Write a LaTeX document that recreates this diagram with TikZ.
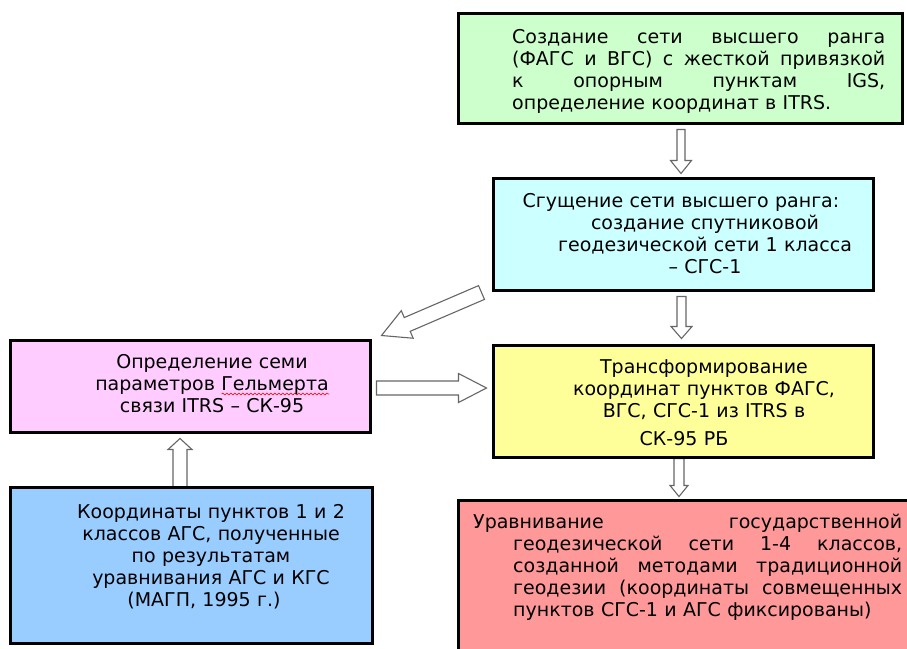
\documentclass[tikz,border=0pt]{standalone}
\usepackage{fontspec}
\setmainfont{DejaVu Sans}
\usepackage{tikz}
\usetikzlibrary{calc}
\usetikzlibrary{backgrounds}
\usetikzlibrary{decorations.pathmorphing}

\definecolor{boxgreen}{HTML}{CCFFCC}
\definecolor{boxcyan}{HTML}{CCFFFF}
\definecolor{boxpink}{HTML}{FFCCFF}
\definecolor{boxyellow}{HTML}{FFFF99}
\definecolor{boxblue}{HTML}{99CCFF}
\definecolor{boxred}{HTML}{FF9999}

\newlength{\wavelen}
\newcommand{\spellwave}[1]{\settowidth{\wavelen}{#1}%
  \rlap{\tikz[baseline=0pt]\draw[red, line width=0.6pt, decorate,
    decoration={snake, amplitude=0.9pt, segment length=4pt}] (0pt,-4pt) -- (\wavelen,-4pt);}#1}
\newcommand{\spreadline}[2]{\makebox[#1][l]{#2}}
\newcommand{\hollowarrow}[5]{%
  \coordinate (hb) at ($(#2)!#4!(#1)$);
  \draw[blockarr] ($(#1)!#3!90:(#2)$) -- ($(hb)!#3!-90:(#1)$) -- ($(hb)!#5!-90:(#1)$)
    -- (#2) -- ($(hb)!#5!90:(#1)$) -- ($(hb)!#3!90:(#1)$) -- ($(#1)!#3!-90:(#2)$) -- cycle;}

\tikzset{
  box/.style={draw=black, line width=3pt, inner sep=0pt},
  txt/.style={inner sep=0pt, font=\fontsize{19}{22}\selectfont},
  ctxt/.style={txt, anchor=base, text width=420pt, align=center},
  blockarr/.style={draw=black!60, fill=white, line width=1.1pt, line join=miter}
}

\begin{document}
\begin{tikzpicture}[x=1pt,y=-1pt]
\useasboundingbox (0,0) rectangle (907,648);
\clip (0,0) rectangle (907,648);

\node[box, fill=boxgreen, minimum width=444, minimum height=110] (green) at (680,68) {};
\node[box, fill=boxcyan, minimum width=380, minimum height=112] (cyan) at (683,234) {};
\node[box, fill=boxpink, minimum width=360, minimum height=92] (pink) at (190,386) {};
\node[box, fill=boxyellow, minimum width=380, minimum height=112] (yellow) at (683,401) {};
\node[box, fill=boxblue, minimum width=362, minimum height=156] (blue) at (191,565) {};
\node[box, fill=boxred, minimum width=470, minimum height=170] (red) at (693,585) {};

\node[txt, anchor=base west, text width=373pt, align=left] (greentext) at (512,43)
  {\spreadline{373pt}{Создание \hfill сети \hfill высшего \hfill ранга}\\
   \spreadline{373pt}{(ФАГС \hfill и \hfill ВГС) \hfill с \hfill жесткой \hfill привязкой}\\
   \spreadline{373pt}{к \hfill опорным \hfill пунктам \hfill IGS,}\\
   определение координат в ITRS.};
\node[ctxt] (cyantext) at (705,207)
  {Сгущение сети высшего ранга:\hspace*{48pt}\null\\ создание спутниковой\\
   геодезической сети 1 класса\\ – СГС-1};
\node[ctxt] (pinktext) at (212,368)
  {Определение семи\\ параметров \spellwave{Гельмерта}\\ связи ITRS – СК-95};
\node[ctxt] (yellowtext) at (704,373)
  {Трансформирование\\ координат пунктов ФАГС,\\ ВГС, СГС-1 из ITRS в\\[6pt]
   СК-95 РБ\hspace*{40pt}\null};
\node[ctxt] (bluetext) at (211,518)
  {Координаты пунктов 1 и 2\\ классов АГС, полученные\\ по результатам\\
   уравнивания АГС и КГС\\ (МАГП, 1995 г.)\hspace*{14pt}\null};
\node[txt, anchor=base west, text width=429pt, align=left] (redtext) at (473,528)
  {\spreadline{429pt}{Уравнивание \hfill государственной}\\
   \hspace*{40pt}\spreadline{389pt}{геодезической \hfill сети \hfill 1-4 \hfill классов,}\\
   \hspace*{40pt}\spreadline{389pt}{созданной \hfill методами \hfill традиционной}\\
   \hspace*{40pt}\spreadline{389pt}{геодезии \hfill (координаты \hfill совмещенных}\\
   \hspace*{40pt}пунктов СГС-1 и АГС фиксированы)};

\begin{pgfonlayer}{background}
\fill[white] (0,0) rectangle (907,648);
\coordinate (a1s) at ($(green.south)+(1,5)$);
\coordinate (a1e) at ($(a1s |- cyan.north)+(0,-3)$);
\coordinate (a2s) at ($(cyan.south)+(-1.5,5)$);
\coordinate (a2e) at ($(a2s |- yellow.north)+(0,-5)$);
\coordinate (a3s) at ($(yellow.south)+(-4,0)$);
\coordinate (a3e) at ($(a3s |- red.north)+(0,-2)$);
\coordinate (a4s) at ($(blue.north)+(-11,5)$);
\coordinate (a4e) at ($(a4s |- pink.south)+(0,5)$);
\coordinate (a5s) at ($(pink.east)+(5,2)$);
\coordinate (a5e) at ($(a5s -| yellow.west)+(-5,0)$);
\coordinate (a6s) at ($(cyan.south west)+(-10,1)$);
\coordinate (a6e) at ($(pink.north east)+(10,-3)$);
\hollowarrow{a1s}{a1e}{4pt}{13pt}{10.5pt}
\hollowarrow{a2s}{a2e}{4.5pt}{12pt}{10.5pt}
\hollowarrow{a3s}{a3e}{5pt}{11pt}{9pt}
\hollowarrow{a4s}{a4e}{7pt}{11pt}{12pt}
\hollowarrow{a5s}{a5e}{7pt}{28pt}{14.5pt}
\hollowarrow{a6s}{a6e}{7.5pt}{28pt}{15pt}
\end{pgfonlayer}
\end{tikzpicture}
\end{document}
